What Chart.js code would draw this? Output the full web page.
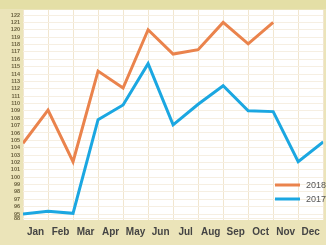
<!DOCTYPE html>
<html>
<head>
<meta charset="utf-8">
<script src="https://cdn.jsdelivr.net/npm/chart.js@4"></script>
<style>
  html, body { margin: 0; padding: 0; background: #ebe4b9; }
  #wrap { width: 326px; height: 245px; }
</style>
</head>
<body>
<div id="wrap"><canvas id="lineChart" width="326" height="245"></canvas></div>
<script>
const months = ['Jan', 'Feb', 'Mar', 'Apr', 'May', 'Jun', 'Jul', 'Aug', 'Sep', 'Oct', 'Nov', 'Dec'];
const values2018 = [104.6, 109.1, 102.1, 114.4, 112.1, 120.0, 116.7, 117.3, 121.0, 118.1, 121.0];
const values2017 = [95.0, 95.4, 95.1, 107.8, 109.8, 115.4, 107.1, 109.9, 112.4, 109.0, 108.9, 102.1, 104.8];
const yTickValues = [94.45, 95, 96, 97, 98, 99, 100, 101, 102, 103, 104, 105, 106, 107, 108, 109, 110, 111, 112, 113, 114, 115, 116, 117, 118, 119, 120, 121, 122];
const yTickLabels = ['88', '95', '96', '97', '98', '99', '100', '101', '102', '103', '104', '105', '106', '107', '108', '109', '110', '111', '112', '113', '114', '115', '116', '117', '118', '119', '120', '121', '122'];

const toPoints = arr => arr.map((v, i) => ({ x: i, y: v }));

// backgrounds: beige page, darker top strip, white plot
const backdrop = {
  id: 'backdrop',
  beforeDraw(chart) {
    const { ctx, chartArea: a, width, height } = chart;
    ctx.save();
    ctx.fillStyle = '#ebe4b9';
    ctx.fillRect(0, 0, width, height);
    ctx.fillStyle = '#e4dfa6';
    ctx.fillRect(0, 0, width, 9);
    ctx.fillStyle = '#ffffff';
    ctx.fillRect(a.left, a.top, a.right - a.left, a.bottom - a.top);
    ctx.restore();
  }
};

// legend inside the plot, bottom right
const insideLegend = {
  id: 'insideLegend',
  afterDraw(chart) {
    const { ctx, chartArea: a } = chart;
    ctx.save();
    ctx.font = '9px "Liberation Sans", Arial, sans-serif';
    ctx.textBaseline = 'middle';
    chart.data.datasets.forEach((ds, i) => {
      const y = a.top + 175 + i * 14;
      ctx.strokeStyle = ds.borderColor;
      ctx.lineWidth = 3;
      ctx.beginPath();
      ctx.moveTo(a.left + 252, y);
      ctx.lineTo(a.left + 277, y);
      ctx.stroke();
      ctx.fillStyle = '#555555';
      ctx.fillText(ds.label, a.left + 283, y + 0.5);
    });
    ctx.restore();
  }
};

new Chart(document.getElementById('lineChart').getContext('2d'), {
  type: 'line',
  data: {
    datasets: [{
      label: '2018',
      data: toPoints(values2018),
      borderColor: '#ea834c',
      borderWidth: 3,
      pointRadius: 0,
      tension: 0
    }, {
      label: '2017',
      data: toPoints(values2017),
      borderColor: '#1ba7e1',
      borderWidth: 3,
      pointRadius: 0,
      tension: 0
    }]
  },
  options: {
    responsive: false,
    animation: false,
    layout: { padding: { top: 10, right: 0, left: 0, bottom: 0 } },
    plugins: { legend: { display: false }, tooltip: { enabled: false } },
    scales: {
      x: {
        type: 'linear',
        min: 0,
        max: 12,
        position: 'bottom',
        border: { display: false },
        grid: { color: '#f1e6cf', lineWidth: 1, drawTicks: false },
        ticks: { display: false },
        afterBuildTicks: axis => { axis.ticks = months.map((m, i) => ({ value: i })).concat([{ value: 12 }]); },
        afterFit: axis => { axis.height = 0; }
      },
      months: {
        type: 'linear',
        min: 0,
        max: 12,
        position: 'bottom',
        border: { display: false },
        grid: { display: false, drawTicks: false },
        ticks: {
          padding: 6,
          autoSkip: false,
          maxRotation: 0,
          color: '#444444',
          font: { family: '"Liberation Sans", Arial, sans-serif', size: 10, weight: 'bold' },
          callback: (v) => months[Math.floor(v)]
        },
        afterBuildTicks: axis => { axis.ticks = months.map((m, i) => ({ value: i + 0.5 })); },
        afterFit: axis => { axis.height = 25; }
      },
      y: {
        min: 94.2,
        max: 122.68,
        border: { display: false },
        grid: { color: '#f6efe2', lineWidth: 1, drawTicks: false },
        ticks: {
          padding: 3,
          autoSkip: false,
          color: '#6b6240',
          font: { family: '"Liberation Sans", Arial, sans-serif', size: 5.5, weight: 'bold' },
          callback: (v) => {
            const i = yTickValues.indexOf(v);
            return i >= 0 ? yTickLabels[i] : '';
          }
        },
        afterBuildTicks: axis => { axis.ticks = yTickValues.map(v => ({ value: v })); },
        afterFit: axis => { axis.width = 23; }
      }
    }
  },
  plugins: [backdrop, insideLegend]
});
</script>
</body>
</html>
